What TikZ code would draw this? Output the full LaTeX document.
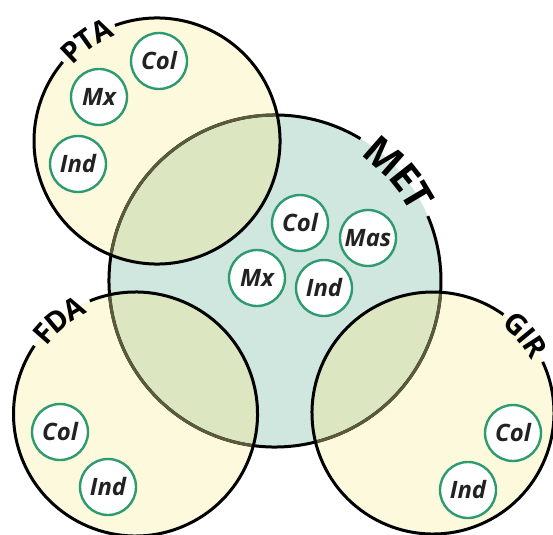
\documentclass[tikz,border=0pt]{standalone}
\usepackage{fontspec}
\setsansfont{Open Sans}
\usetikzlibrary{decorations.text}
\definecolor{ylw}{HTML}{FCF9DC}
\definecolor{tea}{HTML}{CFE7DE}
\definecolor{ovl}{HTML}{DCE6C0}
\definecolor{oliv}{HTML}{5A5A3C}
\definecolor{grn}{HTML}{2E9A70}
\definecolor{ink}{HTML}{222222}
\newcommand{\lblfont}{\sffamily\bfseries\fontsize{29}{29}\selectfont}
\newcommand{\metfont}{\sffamily\bfseries\fontsize{40}{40}\selectfont}
\begin{document}
\begin{tikzpicture}[x=1bp,y=1bp,
  bigline/.style={line width=3bp, draw=black},
  small/.style={circle, draw=grn, line width=2.4bp, fill=white, minimum size=56bp, inner sep=0pt,
    font=\sffamily\bfseries\itshape\fontsize{24}{24}\selectfont, text=ink}]
\useasboundingbox (0,0) rectangle (553,-535);
\coordinate (pta) at (157,-141);
\coordinate (met) at (275,-281);
\coordinate (fda) at (135.5,-414);
\coordinate (gir) at (433,-413);
% fills
\fill[ylw] (pta) circle[radius=123bp];
\fill[ylw] (fda) circle[radius=122bp];
\fill[ylw] (gir) circle[radius=121bp];
\fill[tea] (met) circle[radius=166bp];
\begin{scope}
  \clip (met) circle[radius=166bp];
  \fill[ovl] (pta) circle[radius=123bp];
  \fill[ovl] (fda) circle[radius=122bp];
  \fill[ovl] (gir) circle[radius=121bp];
\end{scope}
% MET border
\draw[bigline] (met) ++(59:166bp) arc[start angle=59, end angle=383, radius=166bp];
\begin{scope}
  \clip (pta) circle[radius=123bp] (fda) circle[radius=122bp] (gir) circle[radius=121bp];
  \draw[line width=3bp, draw=oliv] (met) circle[radius=166bp];
\end{scope}
% yellow borders
\draw[bigline] (pta) ++(110:123bp) arc[start angle=110, end angle=-220, radius=123bp];
\draw[bigline] (fda) ++(112:122bp) arc[start angle=112, end angle=-214, radius=122bp];
\draw[bigline] (gir) ++(25:121bp) arc[start angle=25, end angle=-305.6, radius=121bp];
% labels
\path[decorate, decoration={text along path, text={|\lblfont|PTA}, text align=center, raise=-10bp}]
  (pta) ++(155:123bp) arc[start angle=155, end angle=95, radius=123bp];
\path[decorate, decoration={text along path, text={|\lblfont|FDA}, text align=center, raise=-10bp}]
  (fda) ++(159:122bp) arc[start angle=159, end angle=99, radius=122bp];
\path[decorate, decoration={text along path, text={|\lblfont|GIR}, text align=center, raise=-10bp}]
  (gir) ++(70:121bp) arc[start angle=70, end angle=10, radius=121bp];
\path[decorate, decoration={text along path, text={|\metfont|MET}, text align=center, raise=-14bp}]
  (met) ++(72:166bp) arc[start angle=72, end angle=10, radius=166bp];
% small circles
\node[small] (pcol) at (159,-61) {Col};
\node[small] (pmx) at (99,-97) {Mx};
\node[small] (pind) at (78,-164) {Ind};
\node[small] (mcol) at (300,-223) {Col};
\node[small] (mmas) at (368,-238) {Mas};
\node[small] (mmx) at (257,-278) {Mx};
\node[small] (mind) at (324,-288) {Ind};
\node[small] (fcol) at (60,-432) {Col};
\node[small] (find) at (108,-487) {Ind};
\node[small] (gcol) at (513,-433) {Col};
\node[small] (gind) at (468,-490) {Ind};
\end{tikzpicture}
\end{document}
